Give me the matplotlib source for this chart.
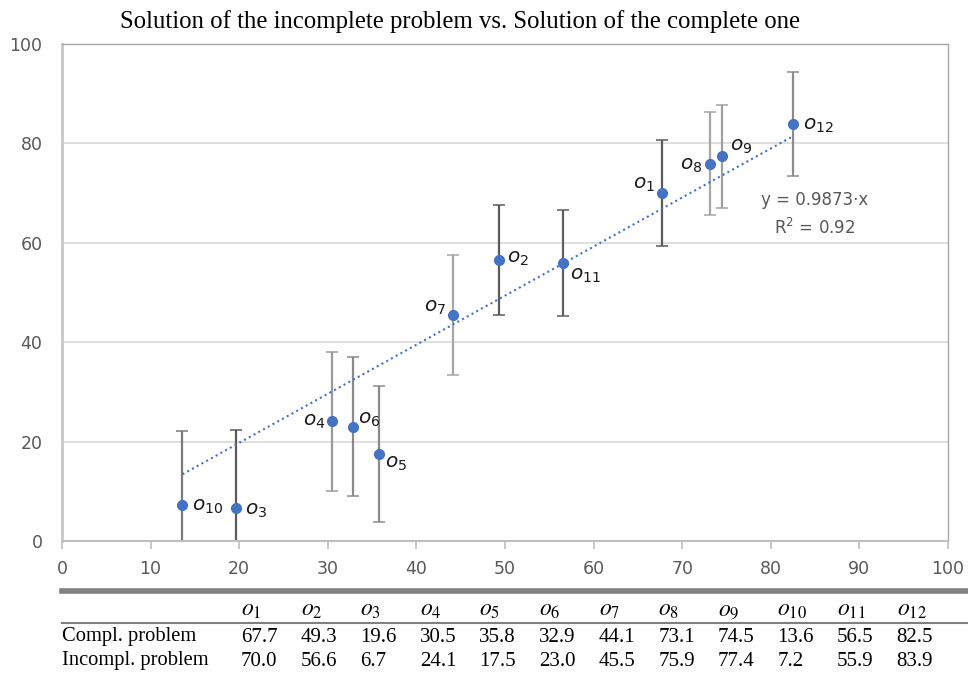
import matplotlib
matplotlib.use("Agg")
import matplotlib.pyplot as plt
from matplotlib.lines import Line2D
import numpy as np

# data
names = ["o1", "o2", "o3", "o4", "o5", "o6", "o7", "o8", "o9", "o10", "o11", "o12"]
compl = [67.7, 49.3, 19.6, 30.5, 35.8, 32.9, 44.1, 73.1, 74.5, 13.6, 56.5, 82.5]
incompl = [70.0, 56.6, 6.7, 24.1, 17.5, 23.0, 45.5, 75.9, 77.4, 7.2, 55.9, 83.9]
err = [10.6, 11.1, 15.6, 14.0, 13.6, 14.0, 12.1, 10.4, 10.4, 14.9, 10.7, 10.5]
slope = 0.9873
r2 = 0.92

# styling per point
bar_colors = ["#5a5a5a", "#5a5a5a", "#5a5a5a", "#9a9a9a", "#8a8a8a", "#8a8a8a",
              "#a6a6a6", "#a6a6a6", "#a0a0a0", "#7a7a7a", "#5f5f5f", "#8c8c8c"]
# label offsets in points and alignment
label_pos = {
    "o1": (-5, 6, "right"), "o2": (6, 1, "left"), "o3": (7, -2, "left"),
    "o4": (-5, 0, "right"), "o5": (4, -7, "left"), "o6": (3, 5, "left"),
    "o7": (-5, 5, "right"), "o8": (-5, -1, "right"), "o9": (6, 7, "left"),
    "o10": (7, -1, "left"), "o11": (5, -9, "left"), "o12": (7, -1, "left"),
}

blue = "#4472C4"
W, H = 968, 673
fig = plt.figure(figsize=(W / 100, H / 100), dpi=100)
ax = fig.add_axes([62 / W, 1 - 541 / H, (948 - 62) / W, (541 - 44) / H])

ax.set_xlim(0, 100)
ax.set_ylim(0, 100)
ax.set_xticks(np.arange(0, 101, 10))
ax.set_yticks(np.arange(0, 101, 20))
ax.yaxis.grid(True, color="#d9d9d9", lw=1.2)
ax.set_axisbelow(True)
for s in ["top", "right"]:
    ax.spines[s].set_color("#a6a6a6")
    ax.spines[s].set_linewidth(1.0)
ax.spines["left"].set_color("#c8c8c8")
ax.spines["left"].set_linewidth(2)
ax.spines["bottom"].set_color("#bfbfbf")
ax.spines["bottom"].set_linewidth(1.5)
ax.tick_params(axis="y", length=0, pad=14, labelsize=12.5, labelcolor="#595959")
ax.tick_params(axis="x", length=6, width=1.2, color="#bfbfbf", direction="out",
               pad=8, labelsize=12.5, labelcolor="#595959")

# error bars
for i in range(len(names)):
    ax.errorbar(compl[i], incompl[i], yerr=err[i], fmt="none", ecolor=bar_colors[i],
                elinewidth=1.6, capsize=4.5, capthick=1.1, zorder=2)

# trend line through origin
xs = np.array([min(compl), max(compl)])
ax.plot(xs, slope * xs, color=blue, lw=1.5, ls=(0, (1, 1.6)), zorder=3)

ax.plot(compl, incompl, "o", color=blue, ms=7, zorder=4)

for i, n in enumerate(names):
    dx, dy, ha = label_pos[n]
    ax.annotate(r"$o_{%s}$" % n[1:], (compl[i], incompl[i]), xytext=(dx, dy),
                textcoords="offset points", ha=ha, va="center", fontsize=14.5,
                math_fontfamily="dejavusans", color="#1a1a1a", zorder=5)

ax.text(0.849, 0.657, "y = %.4f·x\nR$^2$ = %.2f" % (slope, r2), transform=ax.transAxes,
        ha="center", va="center", fontsize=12, color="#595959", linespacing=1.5)

fig.text(460 / W, 1 - 22 / H, "Solution of the incomplete problem vs. Solution of the complete one",
         ha="center", va="center", fontsize=17.8, family="Liberation Serif")

# table under the chart
fig.add_artist(Line2D([62 / W, 1.0], [1 - 591 / H] * 2, color="#808080", lw=4))
fig.add_artist(Line2D([62 / W, 1.0], [1 - 623 / H] * 2, color="#808080", lw=1.5))
col_x = [241 + 59.6 * i for i in range(len(names))]
for i, n in enumerate(names):
    fig.text(col_x[i] / W, 1 - 609 / H, r"$o_{%s}$" % n[1:], ha="left", va="center",
             fontsize=17, math_fontfamily="stix")
    fig.text(col_x[i] / W, 1 - 637 / H, "%.1f" % compl[i], ha="left", va="center",
             fontsize=15, family="Liberation Serif")
    fig.text(col_x[i] / W, 1 - 661 / H, "%.1f" % incompl[i], ha="left", va="center",
             fontsize=15, family="Liberation Serif")
fig.text(62 / W, 1 - 637 / H, "Compl. problem", ha="left", va="center",
         fontsize=14.8, family="Liberation Serif")
fig.text(62 / W, 1 - 661 / H, "Incompl. problem", ha="left", va="center",
         fontsize=14.8, family="Liberation Serif")

fig.savefig("out.png", dpi=100)
